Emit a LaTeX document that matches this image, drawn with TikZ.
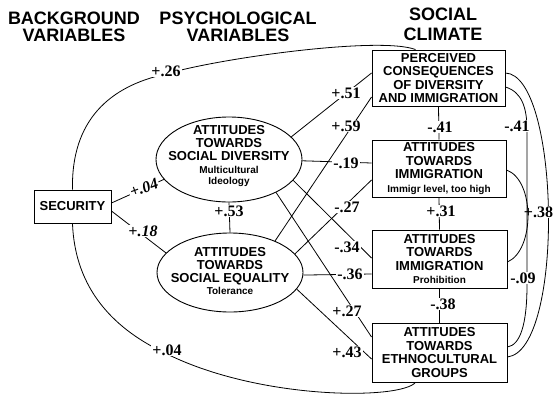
\documentclass[tikz,border=0pt]{standalone}
\usepackage{fontspec}
\setmainfont{Liberation Sans}
\newfontfamily\tms{Liberation Serif}
\usetikzlibrary{shapes.geometric,calc}
\newcommand\sml[1]{{\fontsize{10}{10}\selectfont #1}}
\begin{document}
\begin{tikzpicture}[x=1pt,y=-1pt,
  every node/.style={inner sep=0pt},
  conn/.style={line width=0.8pt},
  hdr/.style={font=\fontsize{18}{17}\selectfont\bfseries, align=center},
  varbox/.style={draw, line width=0.9pt, font=\fontsize{13}{13.4}\selectfont\bfseries, align=center, inner sep=0pt},
  oval/.style={draw, ellipse, line width=0.9pt, inner sep=0pt},
  ovaltext/.style={font=\fontsize{13}{13.2}\selectfont\bfseries, align=center},
  coef/.style={font=\tms\bfseries\fontsize{16}{16}\selectfont, fill=white, inner sep=1pt},
  coefit/.style={coef, font=\tms\bfseries\itshape\fontsize{16}{16}\selectfont}
]
\useasboundingbox (0,0) rectangle (555,394);
\fill[white] (0,0) rectangle (555,394);

% headers
\node[hdr] (h1) at (74,26.5) {BACKGROUND\\VARIABLES};
\node[hdr] (h2) at (238,26.5) {PSYCHOLOGICAL\\VARIABLES};
\node[hdr, font=\fontsize{18}{20}\selectfont\bfseries] (h3) at (443,24.5) {SOCIAL\\CLIMATE};

% boxes
\node[varbox, minimum width=133pt, minimum height=56pt] (P) at (438.5,78) {PERCEIVED\\CONSEQUENCES\\OF DIVERSITY\\AND IMMIGRATION};
\node[varbox, minimum width=134pt, minimum height=57pt] (I1) at (439,168.5) {ATTITUDES\\TOWARDS\\IMMIGRATION\\\sml{Immigr level, too high}};
\node[varbox, minimum width=135pt, minimum height=58pt] (I2) at (439.5,259) {ATTITUDES\\TOWARDS\\IMMIGRATION\\\sml{Prohibition}};
\node[varbox, minimum width=135pt, minimum height=59pt] (E) at (439.5,352.5) {ATTITUDES\\TOWARDS\\ETHNOCULTURAL\\GROUPS};
\node[varbox, minimum width=77pt, minimum height=33pt] (S) at (72.5,206.5) {SECURITY};

% ellipses
\node[oval, minimum width=146pt, minimum height=85pt] (e1) at (229,159.5) {};
\node[ovaltext] (t1) at (229,156) {ATTITUDES\\TOWARDS\\SOCIAL DIVERSITY\\[-1pt]\sml{Multicultural}\\[-2pt]\sml{Ideology}};
\node[oval, minimum width=146pt, minimum height=79pt] (e2) at (230,272.5) {};
\node[ovaltext] (t2) at (230,271) {ATTITUDES\\TOWARDS\\SOCIAL EQUALITY\\[-1pt]\sml{Tolerance}};

% label coordinates on the big arcs
\coordinate (k26) at (166,74);
\coordinate (k04) at (167,354);

% connectors: security
\draw[conn] (S.north) .. controls (71,120) and (110,86) .. (k26) .. controls (220,58) and (380,36) .. ([xshift=-23pt]P.north);
\draw[conn] (S.south) .. controls (75,290) and (115,330) .. (k04) .. controls (260,400) and (400,400) .. ([xshift=-24pt]E.south);
\draw[conn] (S.east |- 0,203) -- (e1.197);
\draw[conn] (S.east |- 0,211) -- (e2.163);
\draw[conn] (e1.south) -- (e2.north);

% connectors: ellipses to boxes
\draw[conn] (e1.20) -- (P.west |- 0,73);
\draw[conn] (e2.35) -- (P.west |- 0,97);
\draw[conn] (e1.-1) -- (I1.west |- 0,163);
\draw[conn] (e2.16) -- (I1.west |- 0,180);
\draw[conn] (e1.-18) -- (I2.west |- 0,258);
\draw[conn] (e2.-2) -- (I2.west |- 0,274);
\draw[conn] (e1.-35) -- (E.west |- 0,337);
\draw[conn] (e2.-14) -- (E.west |- 0,359);

% vertical chain
\draw[conn] (P.south) -- (I1.north);
\draw[conn] (I1.south) -- (I2.north);
\draw[conn] (I2.south) -- (E.north);

% right-side curves
\draw[conn] (P.east |- 0,73) .. controls (560,75) and (565,350) .. (E.east |- 0,357);
\node[coef] (c38) at (538.5,212) {+.38};
\draw[conn] (I1.east |- 0,170) .. controls (535,180) and (535,250) .. (I2.east |- 0,262);
\coordinate (r1) at (527,130);
\coordinate (r2) at (527,285);
\draw[conn] (P.east |- 0,87) .. controls (522,92) and (527,108) .. (r1) -- (r2) .. controls (527,325) and (520,345) .. (E.east |- 0,347);

% coefficient labels
\node[coef] (c26) at (166,71) {+.26};
\node[coef] (c04b) at (167,350) {+.04};
\node[coefit, rotate=20] (c04) at (144,188) {+.04};
\node[coefit] (c18) at (143,231) {+.18};
\node[coef] (c53) at (229,211) {+.53};
\node[coef] (c51) at (346,93) {+.51};
\node[coef] (c59) at (346,126) {+.59};
\node[coef] (c19) at (346,163) {-.19};
\node[coef] (c27) at (347,207) {-.27};
\node[coef] (c34) at (347,247) {-.34};
\node[coef] (c36) at (350,274) {-.36};
\node[coef] (c27b) at (347,311) {+.27};
\node[coef] (c43) at (347,352) {+.43};
\node[coef] (c41) at (440,127) {-.41};
\node[coef] (c31) at (441,211) {+.31};
\node[coef] (c38b) at (443,304) {-.38};
\node[coef] (c41b) at (517,126) {-.41};
\node[coef] (c09) at (523,278) {-.09};
\end{tikzpicture}
\end{document}
